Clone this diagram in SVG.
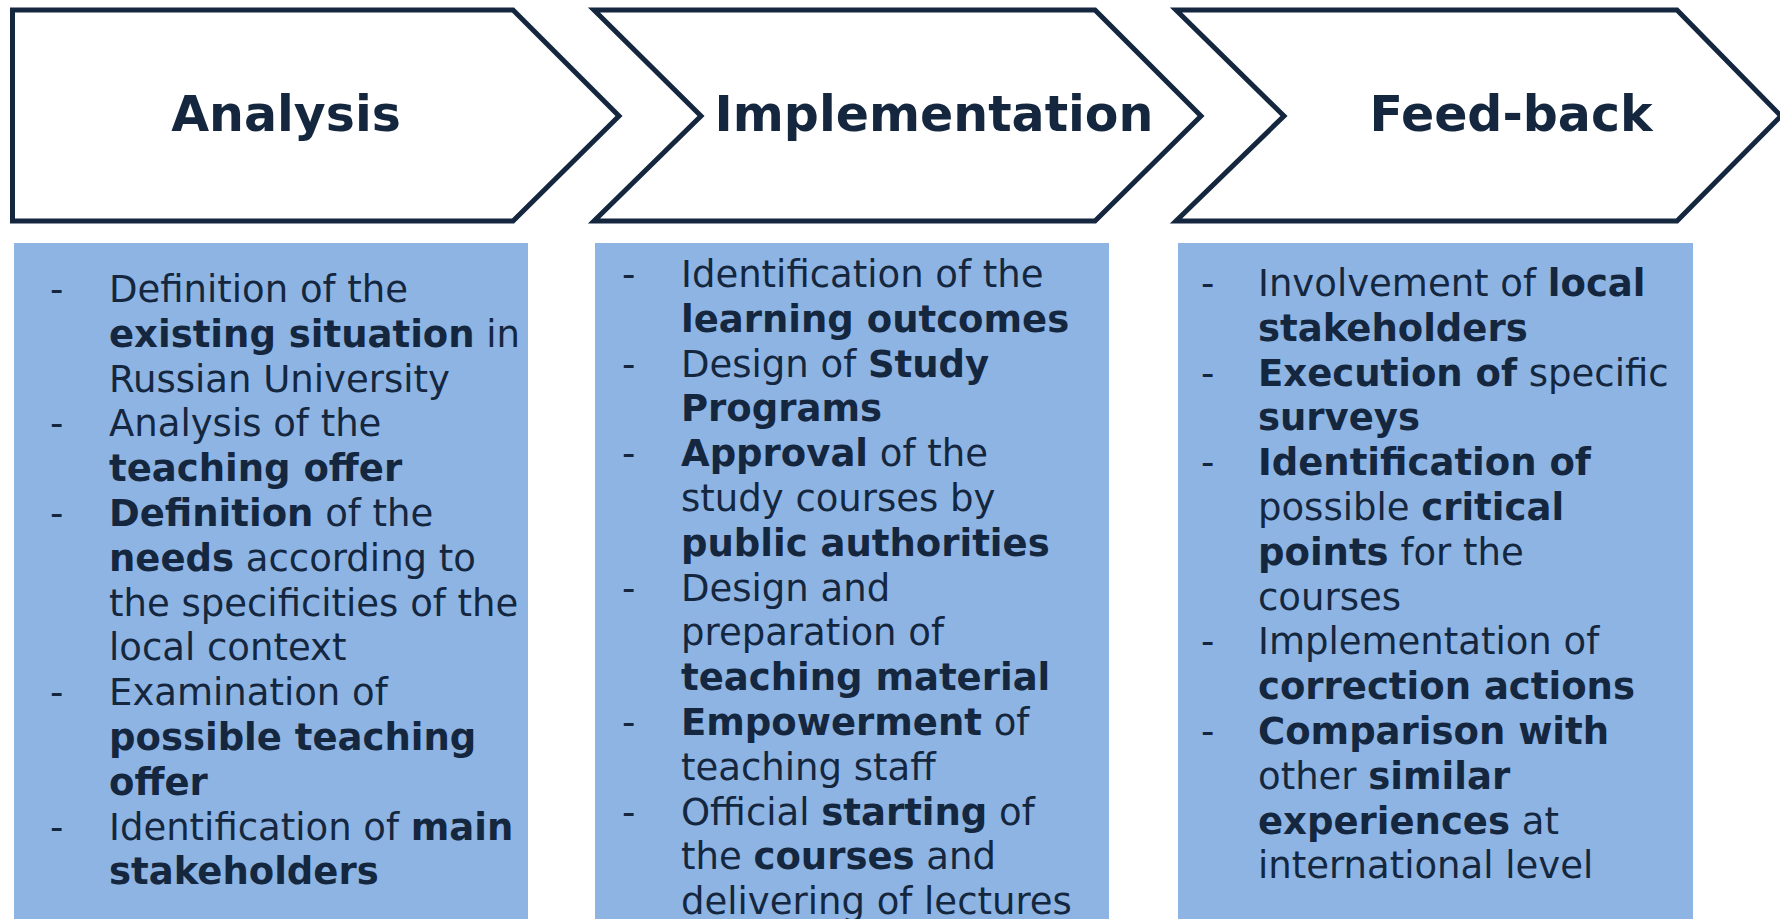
<svg xmlns="http://www.w3.org/2000/svg" width="1780" height="919" viewBox="0 0 1780 919">
  <style>
    .chev { fill: #ffffff; stroke: #14273f; stroke-width: 5; stroke-linejoin: miter; }
    .head { font-family: "DejaVu Sans", Verdana, sans-serif; font-weight: bold; font-size: 49px; fill: #14273f; text-anchor: middle; }
    .box { fill: #8eb4e3; }
    .body { font-family: "DejaVu Sans", Verdana, sans-serif; font-size: 37px; fill: #14273f; }
    .b { font-weight: bold; }
  </style>
  <rect width="1780" height="919" fill="#ffffff"/>

  <!-- stage chevrons -->
  <g id="stage-analysis">
    <polygon class="chev" points="12.5,10 513,10 619,116 513,221 12.5,221"/>
    <text class="head" x="286" y="131">Analysis</text>
  </g>
  <g id="stage-implementation">
    <polygon class="chev" points="594,10 1095,10 1201,116 1095,221 594,221 701,116"/>
    <text class="head" x="934" y="131">Implementation</text>
  </g>
  <g id="stage-feedback">
    <polygon class="chev" points="1176,10 1677,10 1781,116 1677,221 1176,221 1284,116"/>
    <text class="head" x="1511" y="131">Feed-back</text>
  </g>

  <!-- no connectors between stages -->
  <g id="connectors"/>

  <!-- activity lists -->
  <g id="list-analysis">
    <rect class="box" x="14" y="243" width="514" height="676"/>
    <g class="body">
      <text x="50" y="302">-</text>
      <text x="109" y="302">Definition of the</text>
      <text x="109" y="346.8"><tspan class="b">existing situation</tspan> in</text>
      <text x="109" y="391.6">Russian University</text>
      <text x="50" y="436.4">-</text>
      <text x="109" y="436.4">Analysis of the</text>
      <text x="109" y="481.2" class="b">teaching offer</text>
      <text x="50" y="526">-</text>
      <text x="109" y="526"><tspan class="b">Definition</tspan> of the</text>
      <text x="109" y="570.8"><tspan class="b">needs</tspan> according to</text>
      <text x="109" y="615.6">the specificities of the</text>
      <text x="109" y="660.4">local context</text>
      <text x="50" y="705.2">-</text>
      <text x="109" y="705.2">Examination of</text>
      <text x="109" y="750" class="b">possible teaching</text>
      <text x="109" y="794.8" class="b">offer</text>
      <text x="50" y="839.6">-</text>
      <text x="109" y="839.6">Identification of <tspan class="b">main</tspan></text>
      <text x="109" y="884.4" class="b">stakeholders</text>
    </g>
  </g>

  <g id="list-implementation">
    <rect class="box" x="595" y="243" width="514" height="676"/>
    <g class="body">
      <text x="622" y="287">-</text>
      <text x="681" y="287">Identification of the</text>
      <text x="681" y="331.8" class="b">learning outcomes</text>
      <text x="622" y="376.6">-</text>
      <text x="681" y="376.6">Design of <tspan class="b">Study</tspan></text>
      <text x="681" y="421.4" class="b">Programs</text>
      <text x="622" y="466.2">-</text>
      <text x="681" y="466.2"><tspan class="b">Approval</tspan> of the</text>
      <text x="681" y="511">study courses by</text>
      <text x="681" y="555.8" class="b">public authorities</text>
      <text x="622" y="600.6">-</text>
      <text x="681" y="600.6">Design and</text>
      <text x="681" y="645.4">preparation of</text>
      <text x="681" y="690.2" class="b">teaching material</text>
      <text x="622" y="735">-</text>
      <text x="681" y="735"><tspan class="b">Empowerment</tspan> of</text>
      <text x="681" y="779.8">teaching staff</text>
      <text x="622" y="824.6">-</text>
      <text x="681" y="824.6">Official <tspan class="b">starting</tspan> of</text>
      <text x="681" y="869.4">the <tspan class="b">courses</tspan> and</text>
      <text x="681" y="914.2">delivering of lectures</text>
    </g>
  </g>

  <g id="list-feedback">
    <rect class="box" x="1178" y="243" width="515" height="676"/>
    <g class="body">
      <text x="1201" y="296">-</text>
      <text x="1258" y="296">Involvement of <tspan class="b">local</tspan></text>
      <text x="1258" y="340.8" class="b">stakeholders</text>
      <text x="1201" y="385.6">-</text>
      <text x="1258" y="385.6"><tspan class="b">Execution of</tspan> specific</text>
      <text x="1258" y="430.4" class="b">surveys</text>
      <text x="1201" y="475.2">-</text>
      <text x="1258" y="475.2" class="b">Identification of</text>
      <text x="1258" y="520">possible <tspan class="b">critical</tspan></text>
      <text x="1258" y="564.8"><tspan class="b">points</tspan> for the</text>
      <text x="1258" y="609.6">courses</text>
      <text x="1201" y="654.4">-</text>
      <text x="1258" y="654.4">Implementation of</text>
      <text x="1258" y="699.2" class="b">correction actions</text>
      <text x="1201" y="744">-</text>
      <text x="1258" y="744" class="b">Comparison with</text>
      <text x="1258" y="788.8">other <tspan class="b">similar</tspan></text>
      <text x="1258" y="833.6"><tspan class="b">experiences</tspan> at</text>
      <text x="1258" y="878.4">international level</text>
    </g>
  </g>
</svg>
